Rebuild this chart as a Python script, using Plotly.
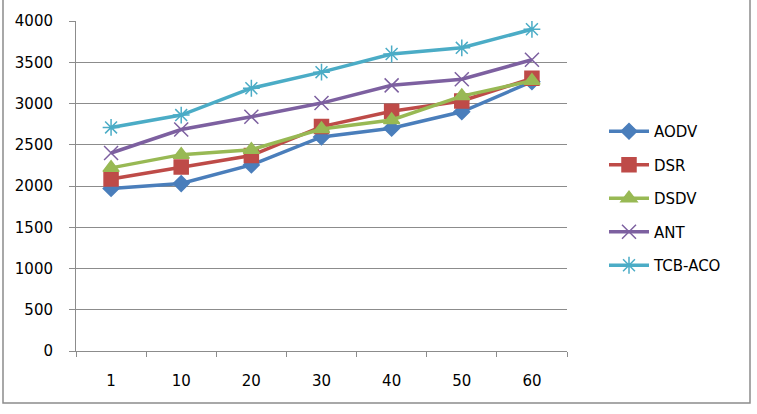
import plotly.graph_objects as go

categories = ["1", "10", "20", "30", "40", "50", "60"]
aodv = [1970, 2030, 2255, 2595, 2700, 2900, 3265]
dsr = [2085, 2230, 2370, 2720, 2905, 3030, 3305]
dsdv = [2220, 2380, 2440, 2690, 2800, 3090, 3275]
ant = [2400, 2685, 2840, 3005, 3220, 3295, 3530]
tcb_aco = [2710, 2860, 3185, 3380, 3600, 3675, 3900]
y_ticks = [0, 500, 1000, 1500, 2000, 2500, 3000, 3500, 4000]

series = [
    ("AODV", aodv, "#4A7EBB", "diamond", 12),
    ("DSR", dsr, "#BE4B48", "square", 14),
    ("DSDV", dsdv, "#98B954", "triangle-up", 14),
    ("ANT", ant, "#7D60A0", "x-thin-open", 14),
    ("TCB-ACO", tcb_aco, "#4BACC6", "asterisk-open", 14),
]

fig = go.Figure()
for name, vals, color, sym, size in series:
    fig.add_trace(go.Scatter(
        x=categories, y=vals, name=name, mode="lines+markers",
        legendgroup=name,
        line=dict(color=color, width=3.5),
        marker=dict(symbol=sym, size=size, color=color,
                    line=dict(color=color, width=1.5)),
    ))

L, R, T, B = 76, 190, 21, 63
W, H = 757, 414
pw, ph = W - L - R, H - T - B

fig.update_layout(
    width=W, height=H,
    margin=dict(l=L, r=R, t=T, b=B),
    paper_bgcolor="white", plot_bgcolor="white",
    font=dict(family="DejaVu Sans", size=15, color="#000000"),
    showlegend=True,
    legend=dict(x=(604 - L) / pw, y=(351 - 115) / ph, xanchor="left", yanchor="top",
                font=dict(size=15, family="DejaVu Sans"),
                tracegroupgap=11, itemwidth=40, bgcolor="rgba(0,0,0,0)"),
    xaxis=dict(type="category", range=[-0.5, 6.5], showgrid=False,
               showline=True, linecolor="#8C8C8C", linewidth=1,
               ticks="outside", ticklen=5, tickcolor="#8C8C8C",
               tickson="boundaries", ticklabelstandoff=16, fixedrange=True),
    yaxis=dict(range=[0, 4000], tickvals=y_ticks, showgrid=True,
               gridcolor="#8C8C8C", gridwidth=1, showline=True,
               linecolor="#8C8C8C", linewidth=1, ticks="outside", ticklen=6,
               tickcolor="#8C8C8C", ticklabelstandoff=13, zeroline=False),
    shapes=[dict(type="rect", xref="paper", yref="paper",
                 x0=(3 - L) / pw, x1=(750 - L) / pw,
                 y0=(351 - 403) / ph, y1=(351 + 20) / ph,
                 line=dict(color="#8C8C8C", width=1.5), layer="below")],
)

fig.write_html("out.html")
